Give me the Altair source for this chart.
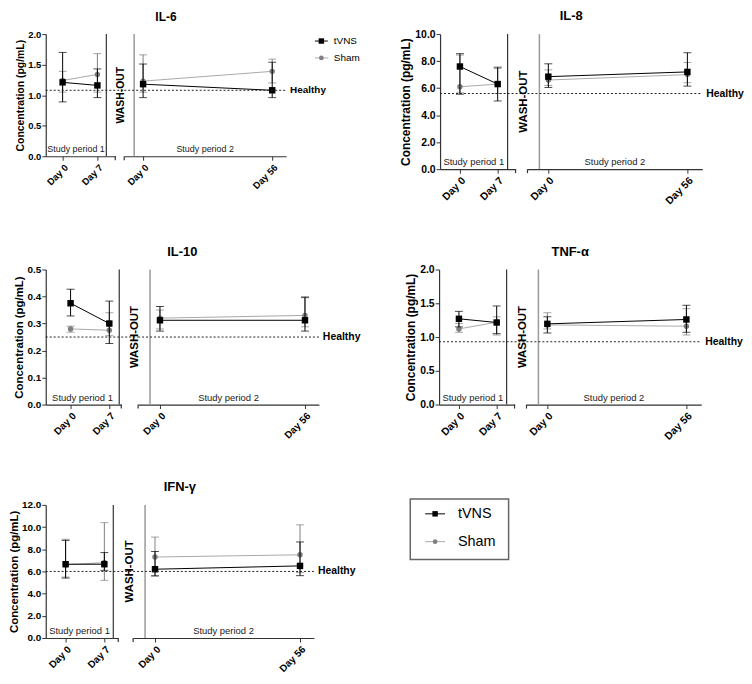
import altair as alt
import pandas as pd

FONT = "Liberation Sans"
groups = ["tVNS", "Sham"]
periods = ["Study period 1", "Study period 1", "Study period 2", "Study period 2"]
days = ["Day 0", "Day 7", "Day 0", "Day 56"]

# IL-6
il6_tv = [1.21, 1.16, 1.18, 1.08]
il6_tv_lo = [0.89, 0.96, 0.96, 0.96]
il6_tv_hi = [1.70, 1.43, 1.51, 1.54]
il6_sh = [1.24, 1.34, 1.23, 1.39]
il6_sh_lo = [1.05, 1.05, 1.05, 1.20]
il6_sh_hi = [1.39, 1.68, 1.66, 1.59]
il6_healthy = 1.08

# IL-8
il8_tv = [7.6, 6.3, 6.85, 7.2]
il8_tv_lo = [5.55, 5.05, 6.05, 6.15]
il8_tv_hi = [8.55, 7.55, 7.8, 8.62]
il8_sh = [6.1, 6.3, 6.6, 7.0]
il8_sh_lo = [5.65, 5.6, 6.2, 6.4]
il8_sh_hi = [8.45, 7.45, 7.35, 7.9]
il8_healthy = 5.6

# IL-10
il10_tv = [0.375, 0.30, 0.312, 0.312]
il10_tv_lo = [0.328, 0.226, 0.272, 0.272]
il10_tv_hi = [0.427, 0.383, 0.363, 0.396]
il10_sh = [0.28, 0.275, 0.32, 0.33]
il10_sh_lo = [0.268, 0.255, 0.28, 0.288]
il10_sh_hi = [0.29, 0.34, 0.35, 0.40]
il10_healthy = 0.25

# TNF-alpha
tnf_tv = [1.27, 1.215, 1.195, 1.26]
tnf_tv_lo = [1.15, 1.05, 1.06, 1.07]
tnf_tv_hi = [1.38, 1.46, 1.30, 1.47]
tnf_sh = [1.12, 1.22, 1.18, 1.16]
tnf_sh_lo = [1.07, 1.03, 1.12, 1.03]
tnf_sh_hi = [1.20, 1.30, 1.36, 1.42]
tnf_healthy = 0.93

# IFN-gamma
ifn_tv = [6.65, 6.65, 6.2, 6.5]
ifn_tv_lo = [5.4, 6.1, 5.6, 5.62]
ifn_tv_hi = [8.8, 7.7, 7.8, 8.66]
ifn_sh = [6.6, 6.8, 7.3, 7.5]
ifn_sh_lo = [5.5, 5.2, 5.6, 5.9]
ifn_sh_hi = [8.9, 10.4, 9.1, 10.2]
ifn_healthy = 6.0

TV_COLOR = "#000000"
SH_COLOR = "#7f7f7f"
SH_LINE = "#a9a9a9"
AX = "#333333"
ONE = pd.DataFrame({"k": [0]})


def make_df(tv, tv_lo, tv_hi, sh, sh_lo, sh_hi):
    rows = []
    for i in range(4):
        rows.append(dict(period=periods[i], day=days[i], group="Sham",
                         mean=sh[i], lo=sh_lo[i], hi=sh_hi[i]))
        rows.append(dict(period=periods[i], day=days[i], group="tVNS",
                         mean=tv[i], lo=tv_lo[i], hi=tv_hi[i]))
    return pd.DataFrame(rows)


def point_scale(dom, w, d0, d1):
    step = d1 - d0
    pad = (w / step - 1) / 2
    align = d0 / (w - step)
    return alt.Scale(type="point", domain=dom, padding=pad, align=align)


def series(data, period, dom, w, d0, d1, yscale, yaxis, lab_fs):
    xaxis = alt.Axis(title=None, labelAngle=-45, labelAlign="right", labelBaseline="top",
                     labelFontWeight="bold", labelFontSize=lab_fs, labelColor="#000",
                     tickSize=4, tickColor=AX, domainColor=AX, domainWidth=1.2,
                     labelPadding=2, grid=False)
    xenc = alt.X("day:N", scale=point_scale(dom, w, d0, d1), axis=xaxis)
    layers = []
    for g, col, lcol, shape, size in [("Sham", SH_COLOR, SH_LINE, "circle", 30),
                                      ("tVNS", TV_COLOR, TV_COLOR, "square", 42)]:
        d = data[(data.group == g) & (data.period == period)]
        base = alt.Chart(d).encode(x=xenc)
        layers += [
            base.mark_rule(color=col, strokeWidth=1).encode(
                y=alt.Y("lo:Q", scale=yscale, axis=yaxis), y2="hi:Q"),
            base.mark_tick(color=col, size=8, thickness=1).encode(
                y=alt.Y("lo:Q", scale=yscale, axis=yaxis)),
            base.mark_tick(color=col, size=8, thickness=1).encode(
                y=alt.Y("hi:Q", scale=yscale, axis=yaxis)),
            base.mark_line(color=lcol, strokeWidth=1).encode(
                y=alt.Y("mean:Q", scale=yscale, axis=yaxis)),
            base.mark_point(shape=shape, filled=True, opacity=1, size=size, color=col).encode(
                y=alt.Y("mean:Q", scale=yscale, axis=yaxis)),
        ]
    return layers


def panel(name, vals, healthy, ymax, ystep, h, p1, gap, p2, fs):
    data = make_df(*vals)
    yscale = alt.Scale(domain=[0, ymax], nice=False, zero=True)
    ticks = [round(i * ystep, 3) for i in range(int(round(ymax / ystep)) + 1)]
    yaxis = alt.Axis(title="Concentration (pg/mL)", values=ticks, format=".1f",
                     titleFontSize=fs["yt"], titleFontWeight="bold", titleColor="#000",
                     labelFontSize=fs["lab"], labelFontWeight="bold", labelColor="#000",
                     tickSize=4, tickColor=AX, domainColor=AX, domainWidth=1.2,
                     grid=False, titlePadding=2, labelPadding=1)
    w1, d10, d11, black = p1
    w2, wash, d20, d21 = p2
    hy = alt.Y(datum=healthy, type="quantitative", scale=yscale, axis=yaxis)
    l1 = series(data, "Study period 1", ["Day 0", "Day 7"], w1, d10, d11, yscale, yaxis,
                fs["lab"])
    c1 = alt.Chart(ONE)
    l1 += [
        c1.mark_rule(color=AX, strokeWidth=1.2).encode(
            x=alt.value(black), y=alt.value(0), y2=alt.value(h)),
        c1.mark_rule(color="#222", strokeWidth=1, strokeDash=[2, 2]).encode(
            x=alt.value(0), x2=alt.value(w1 + gap), y=hy),
        c1.mark_rule(color=AX, strokeWidth=1.2).encode(
            x=alt.value(w1), y=alt.value(h), y2=alt.value(h + 4)),
        c1.mark_text(font=FONT, fontSize=fs["sp"], color="#222", baseline="bottom").encode(
            x=alt.value(black / 2), y=alt.value(h - 2), text=alt.value("Study period 1")),
    ]
    ch1 = alt.layer(*l1).properties(width=w1, height=h)

    l2 = series(data, "Study period 2", ["Day 0", "Day 56"], w2, d20, d21, yscale, None,
                fs["lab"])
    hy2 = alt.Y(datum=healthy, type="quantitative", scale=yscale, axis=None)
    c2 = alt.Chart(ONE)
    l2 += [
        c2.mark_rule(color="#9a9a9a", strokeWidth=1.5).encode(
            x=alt.value(wash), y=alt.value(0), y2=alt.value(h)),
        c2.mark_text(font=FONT, fontSize=fs["wash"], fontWeight="bold", angle=270,
                     align="center", baseline="bottom", color="#000").encode(
            x=alt.value(2), y=alt.value(h / 2), text=alt.value("WASH-OUT")),
        c2.mark_rule(color="#222", strokeWidth=1, strokeDash=[2, 2]).encode(
            x=alt.value(0), x2=alt.value(w2), y=hy2),
        c2.mark_text(font=FONT, fontSize=fs["hl"], fontWeight="bold", align="left",
                     baseline="middle", color="#000").encode(
            x=alt.value(w2 + 4), y=hy2, text=alt.value("Healthy")),
        c2.mark_rule(color=AX, strokeWidth=1.2).encode(
            x=alt.value(0), y=alt.value(h), y2=alt.value(h + 4)),
        c2.mark_text(font=FONT, fontSize=fs["sp"], color="#222", baseline="bottom").encode(
            x=alt.value(w2 / 2), y=alt.value(h - 2), text=alt.value("Study period 2")),
        # panel title, centred over both study periods
        c2.mark_text(font=FONT, fontSize=fs["t"], fontWeight="bold", align="center",
                     baseline="middle", color="#000").encode(
            x=alt.value(w2 / 2 - (w1 + gap) / 2), y=alt.value(fs["ty"]),
            text=alt.value(name)),
    ]
    ch2 = alt.layer(*l2).properties(width=w2, height=h)
    return ch1, ch2


def spacer(w):
    return alt.Chart(ONE).mark_point(opacity=0, size=0).encode(
        x=alt.value(0), y=alt.value(0)).properties(width=w, height=1)


def legend_chart(w, h, ys, xl0, xl1, xt, fs, sq, ci, box=None):
    df = pd.DataFrame({"group": groups})
    yenc = alt.Y("group:N", scale=alt.Scale(type="point", domain=groups, range=ys, padding=0),
                 axis=None)
    base = alt.Chart(df).encode(y=yenc)
    layers = [
        base.mark_rule(strokeWidth=1).encode(
            x=alt.value(xl0), x2=alt.value(xl1),
            color=alt.Color("group:N", scale=alt.Scale(domain=groups, range=[TV_COLOR, SH_LINE]),
                            legend=None)),
        base.mark_point(filled=True, opacity=1).encode(
            x=alt.value((xl0 + xl1) / 2),
            shape=alt.Shape("group:N", scale=alt.Scale(domain=groups, range=["square", "circle"]),
                            legend=None),
            size=alt.Size("group:N", scale=alt.Scale(domain=groups, range=[sq, ci]), legend=None),
            fill=alt.Fill("group:N", scale=alt.Scale(domain=groups, range=[TV_COLOR, SH_COLOR]),
                          legend=None)),
        base.mark_text(font=FONT, fontSize=fs, align="left", baseline="middle", color="#000").encode(
            x=alt.value(xt), text="group:N"),
    ]
    if box is not None:
        layers.insert(0, alt.Chart(ONE).mark_rect(fillOpacity=0, stroke="#666",
                                                   strokeWidth=1.5).encode(
            x=alt.value(0), x2=alt.value(w), y=alt.value(box[0]), y2=alt.value(box[1])))
    return alt.layer(*layers).properties(width=w, height=h)


FS_SMALL = dict(t=12, yt=10.5, lab=9.5, sp=9, hl=10, wash=10.5, ty=-17)
FS_LEFT = dict(t=13, yt=11.5, lab=10, sp=9.5, hl=10.5, wash=11.5, ty=-18)
FS_RIGHT = dict(t=13, yt=12, lab=10.5, sp=9.5, hl=10.5, wash=11.5, ty=-18)

il6 = panel("IL-6", (il6_tv, il6_tv_lo, il6_tv_hi, il6_sh, il6_sh_lo, il6_sh_hi),
            il6_healthy, 2.0, 0.5, 123, (70, 17, 52, 61), 9, (163, 10, 19, 149), FS_SMALL)
il8 = panel("IL-8", (il8_tv, il8_tv_lo, il8_tv_hi, il8_sh, il8_sh_lo, il8_sh_hi),
            il8_healthy, 10.0, 2.0, 136, (76, 20, 58, 68), 12, (176, 12, 21, 161), FS_RIGHT)
il10 = panel("IL-10", (il10_tv, il10_tv_lo, il10_tv_hi, il10_sh, il10_sh_lo, il10_sh_hi),
             il10_healthy, 0.5, 0.1, 136, (76, 25, 64, 74), 17, (182, 12, 22, 168), FS_LEFT)
tnf = panel("TNF-α", (tnf_tv, tnf_tv_lo, tnf_tv_hi, tnf_sh, tnf_sh_lo, tnf_sh_hi),
            tnf_healthy, 2.0, 0.5, 136, (76, 20, 58, 68), 12, (176, 12, 21, 161), FS_RIGHT)
ifn = panel("IFN-γ", (ifn_tv, ifn_tv_lo, ifn_tv_hi, ifn_sh, ifn_sh_lo, ifn_sh_hi),
            ifn_healthy, 12.0, 2.0, 134, (73, 20, 59, 68), 15, (182, 12, 22, 168), FS_LEFT)

leg_small = legend_chart(60, 30, [7, 24], 8, 21, 27, 10, 30, 22)
leg_box = legend_chart(99, 55, [9, 37], 15, 35, 48, 14.5, 49, 40, box=(-6, 55))

row1 = alt.hconcat(il6[0], spacer(9), il6[1], spacer(21), leg_small, spacer(74),
                   il8[0], spacer(12), il8[1], spacing=0, bounds="flush")
row2 = alt.hconcat(il10[0], spacer(17), il10[1], spacer(121),
                   tnf[0], spacer(12), tnf[1], spacing=0, bounds="flush")
row3 = alt.hconcat(ifn[0], spacer(15), ifn[1], spacer(97), leg_box,
                   spacing=0, bounds="flush")

chart = alt.vconcat(row1, row2, row3, spacing=39, bounds="full").properties(
    padding={"left": 0, "top": 0, "right": 0, "bottom": 0}
).configure(font=FONT).configure_view(stroke=None)

chart.save("out.html", embed_options={"renderer": "svg", "actions": False})
